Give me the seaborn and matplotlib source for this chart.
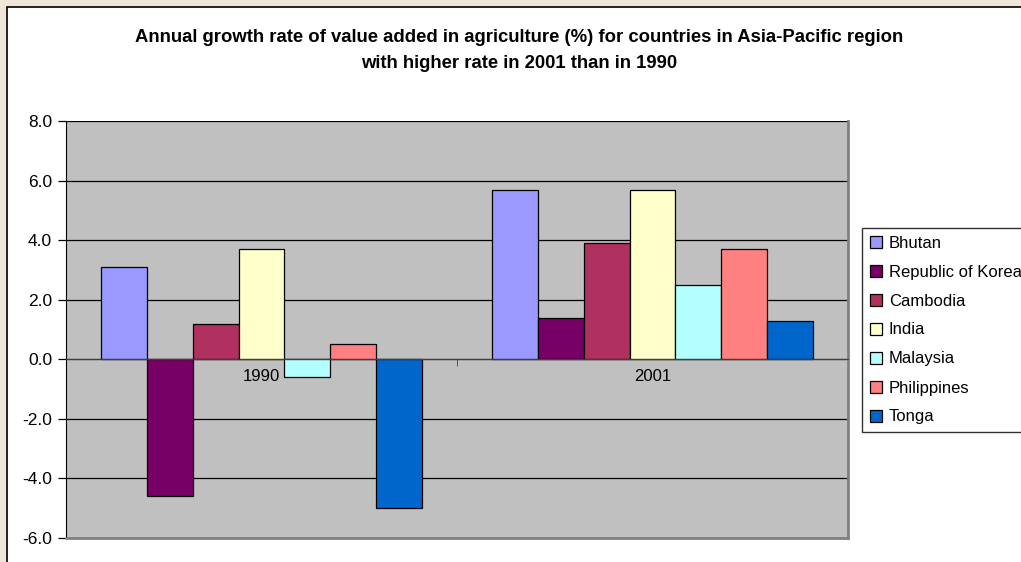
import numpy as np
import pandas as pd
import matplotlib
matplotlib.use("Agg")
import matplotlib.pyplot as plt
from matplotlib.patches import Rectangle
import seaborn as sns

# ── данные ──────────────────────────────────────────────
years = ["1990", "2001"]
countries = ["Bhutan", "Republic of Korea", "Cambodia", "India",
             "Malaysia", "Philippines", "Tonga"]
rate_1990 = [3.1, -4.6, 1.2, 3.7, -0.6, 0.5, -5.0]
rate_2001 = [5.7, 1.4, 3.9, 5.7, 2.5, 3.7, 1.3]
colors = ["#9999FF", "#770066", "#B03060", "#FFFFCC",
          "#B3FFFF", "#FF8080", "#0066CC"]
yticks = [-6.0, -4.0, -2.0, 0.0, 2.0, 4.0, 6.0, 8.0]

df = pd.DataFrame({
    "year": [years[0]] * len(countries) + [years[1]] * len(countries),
    "country": countries * 2,
    "rate": rate_1990 + rate_2001,
})

sns.set_style("white")
plt.rcParams["font.family"] = ["Liberation Sans", "DejaVu Sans"]
plt.rcParams["text.color"] = "black"
plt.rcParams["xtick.color"] = "black"
plt.rcParams["ytick.color"] = "black"

fig = plt.figure(figsize=(10.21, 5.62), dpi=100)
fig.patch.set_facecolor("#efe6da")
# белая область диаграммы с рамкой
fig.patches.append(Rectangle((7 / 1021, -0.1), 1.2, 1 - 7 / 562 + 0.1,
                             transform=fig.transFigure, facecolor="white",
                             edgecolor="black", linewidth=1.2, zorder=-10))

ax = fig.add_axes([66 / 1021, 1 - 538 / 562, (848 - 66) / 1021, (538 - 121) / 562])
ax.set_zorder(2)
ax.set_facecolor("#C0C0C0")

sns.barplot(data=df, x="year", y="rate", hue="country", order=years,
            hue_order=countries, palette=colors, width=0.8235,
            edgecolor="black", linewidth=0.9, saturation=1, ax=ax)

ax.set_ylim(-6, 8)
ax.set_yticks(yticks)
ax.set_yticklabels([f"{v:.1f}" for v in yticks], fontsize=12.5)
ax.yaxis.grid(True, color="black", linewidth=0.9)
ax.set_axisbelow(True)
ax.axhline(-6, color="#808080", linewidth=2, clip_on=False, zorder=3)
ax.tick_params(axis="y", direction="out", length=6, width=0.9, color="black",
               left=True, pad=4)

# категорийная ось на нуле
ax.spines["bottom"].set_position(("data", 0))
ax.spines["bottom"].set_color("#404040")
ax.spines["bottom"].set_zorder(4)
ax.spines["top"].set_visible(False)
ax.spines["right"].set_color("#808080")
ax.spines["right"].set_linewidth(2)
ax.spines["left"].set_color("black")
ax.set_xticks([-0.5, 0.5, 1.5], minor=True)
ax.tick_params(axis="x", which="minor", direction="out", length=5,
               color="#404040", bottom=True)
ax.tick_params(axis="x", which="major", length=0, pad=7, labelsize=12)
ax.set_xlabel("")
ax.set_ylabel("")

handles, labels = ax.get_legend_handles_labels()
leg = ax.legend(handles, labels, loc="upper left",
                bbox_to_anchor=(862 / 1021, 1 - 228 / 562),
                bbox_transform=fig.transFigure, frameon=True, fancybox=False,
                edgecolor="black", fontsize=12, handlelength=0.75,
                handleheight=0.75, handletextpad=0.4, labelspacing=0.84,
                borderpad=0.45, borderaxespad=0)
leg.get_frame().set_linewidth(1)

fig.text(519 / 1021, 1 - 37 / 562,
         "Annual growth rate of value added in agriculture (%) for countries in Asia-Pacific region",
         ha="center", va="center", fontsize=13.3, fontweight="bold")
fig.text(519 / 1021, 1 - 64 / 562, "with higher rate in 2001 than in 1990",
         ha="center", va="center", fontsize=13.3, fontweight="bold")

fig.savefig("out.png", dpi=100, facecolor=fig.get_facecolor())
